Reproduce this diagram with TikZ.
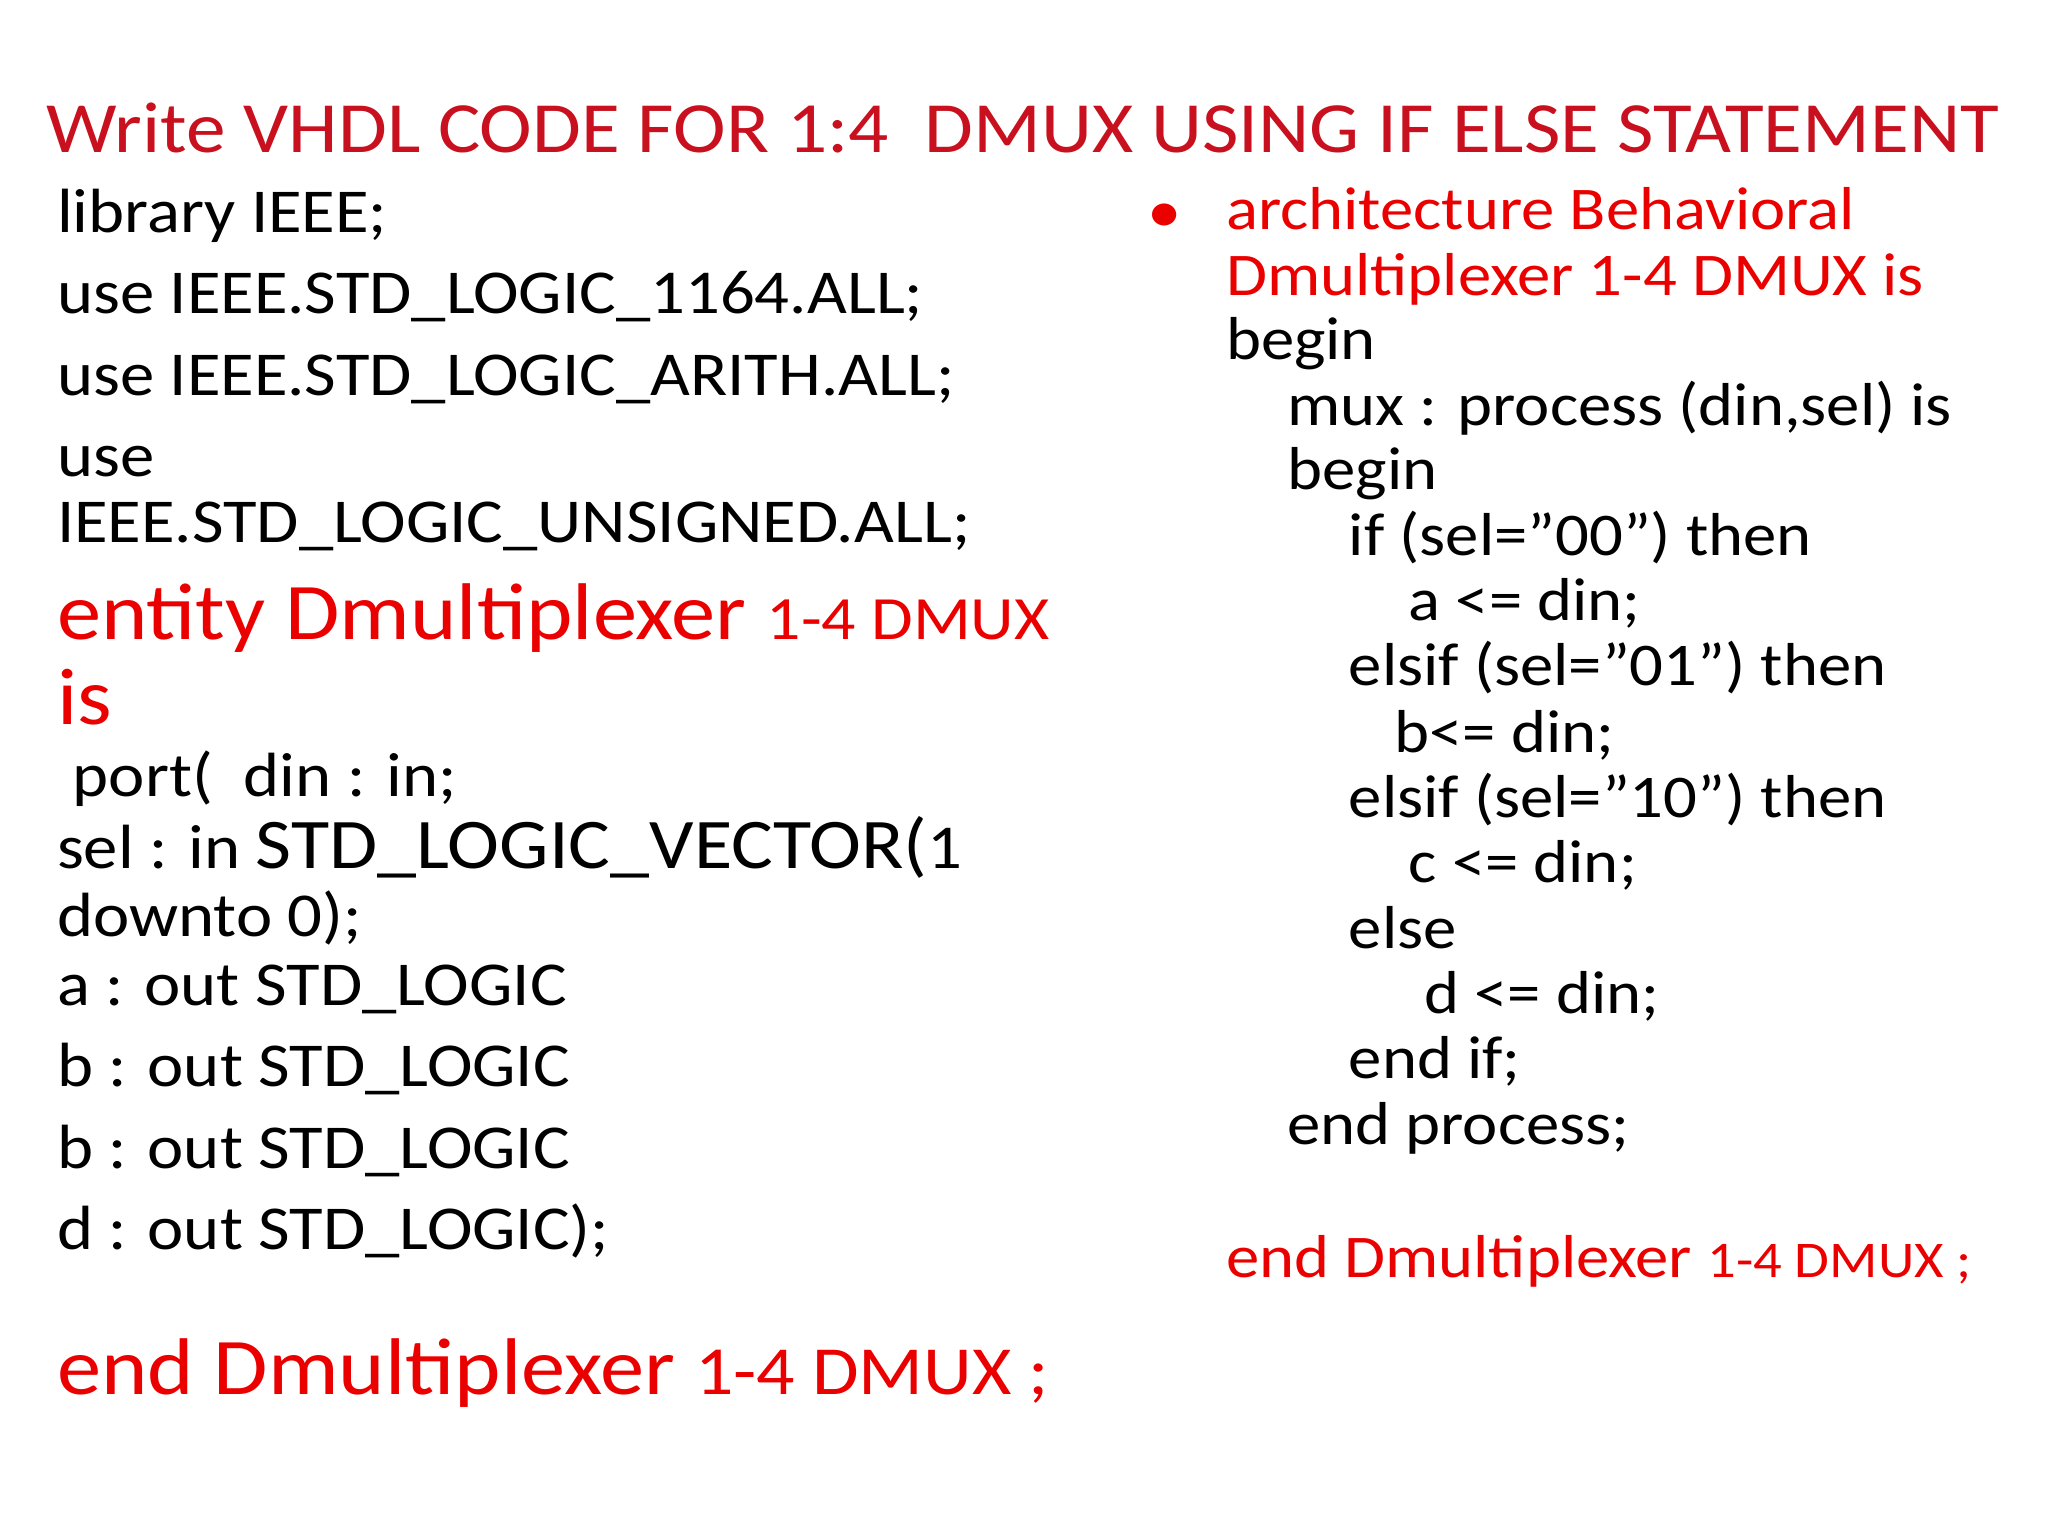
\documentclass[tikz,border=0pt]{standalone}
\usepackage{fontspec}
\defaultfontfeatures{}
\setmainfont{Carlito}[FakeStretch=1.1]
\definecolor{ttl}{RGB}{200,16,30}
\definecolor{cred}{RGB}{235,0,0}
\newcommand{\fs}[1]{\fontsize{#1}{#1}\selectfont}
\newcommand{\qq}{"}
\tikzset{ln/.style={anchor=base west,inner sep=0pt,text=black}}
\begin{document}
\begin{tikzpicture}[x=0.01cm,y=-0.01cm]
\useasboundingbox (0,0) rectangle (1568,1176);
\node[ln,text=ttl] (t) at (35,117) {\fs{15.7pt}Write VHDL CODE FOR 1:4\ \ DMUX USING IF ELSE STATEMENT};
% left column
\node[ln] (l1) at (43,178) {\fs{13.6pt}library IEEE;};
\node[ln] (l2) at (43,240) {\fs{13.6pt}use IEEE.STD\_LOGIC\_1164.ALL;};
\node[ln] (l3) at (43,303) {\fs{13.6pt}use IEEE.STD\_LOGIC\_ARITH.ALL;};
\node[ln] (l4) at (43,365) {\fs{13.6pt}use};
\node[ln] (l5) at (43,415) {\fs{13.6pt}IEEE.STD\_LOGIC\_UNSIGNED.ALL;};
\node[ln,text=cred] (l6) at (43,490) {\fs{17.5pt}entity Dmultiplexer \fs{13.4pt}1-4 DMUX};
\node[ln,text=cred] (l7) at (43,555) {\fs{17.5pt}is};
\node[ln] (l8) at (55,610) {\fs{13.6pt}port(\ \ din : in;};
\node[ln] (l9) at (43,665) {\fs{13.6pt}sel : in \fs{15.5pt}STD\_LOGIC\_VECTOR(\fs{13.6pt}1};
\node[ln] (l10) at (43,717) {\fs{13.6pt}downto 0);};
\node[ln] (l11) at (43,770) {\fs{13.6pt}a : out STD\_LOGIC};
\node[ln] (l12) at (43,832) {\fs{13.6pt}b : out STD\_LOGIC};
\node[ln] (l13) at (43,895) {\fs{13.6pt}b : out STD\_LOGIC};
\node[ln] (l14) at (43,957) {\fs{13.6pt}d : out STD\_LOGIC);};
\node[ln,text=cred] (l15) at (43,1068) {\fs{17.5pt}end Dmultiplexer \fs{15pt}1-4 DMUX ;};
% right column
\node[ln,text=cred] (bul) at (878,178) {\fs{13.6pt}\textbullet};
\node[ln,text=cred] (r1) at (938,176) {\fs{13.2pt}architecture Behavioral};
\node[ln,text=cred] (r2) at (938,226) {\fs{13.2pt}Dmultiplexer 1-4 DMUX is};
\node[ln] (r3) at (938,275) {\fs{13.2pt}begin};
\node[ln] (r4) at (985,326) {\fs{13.2pt}mux : process (din,sel) is};
\node[ln] (r5) at (985,375) {\fs{13.2pt}begin};
\node[ln] (r6) at (1032,425) {\fs{13.2pt}if (sel=\qq00\qq) then};
\node[ln] (r7) at (1078,475) {\fs{13.2pt}a <= din;};
\node[ln] (r8) at (1032,525) {\fs{13.2pt}elsif (sel=\qq01\qq) then};
\node[ln] (r9) at (1067,576) {\fs{13.2pt}b<= din;};
\node[ln] (r10) at (1032,626) {\fs{13.2pt}elsif (sel=\qq10\qq) then};
\node[ln] (r11) at (1078,676) {\fs{13.2pt}c <= din;};
\node[ln] (r12) at (1032,726) {\fs{13.2pt}else};
\node[ln] (r13) at (1090,776) {\fs{13.2pt}d <= din;};
\node[ln] (r14) at (1032,826) {\fs{13.2pt}end if;};
\node[ln] (r15) at (985,876) {\fs{13.2pt}end process;};
\node[ln,text=cred] (r16) at (938,978) {\fs{13.2pt}end Dmultiplexer \fs{11.2pt}1-4 DMUX ;};
\end{tikzpicture}
\end{document}
